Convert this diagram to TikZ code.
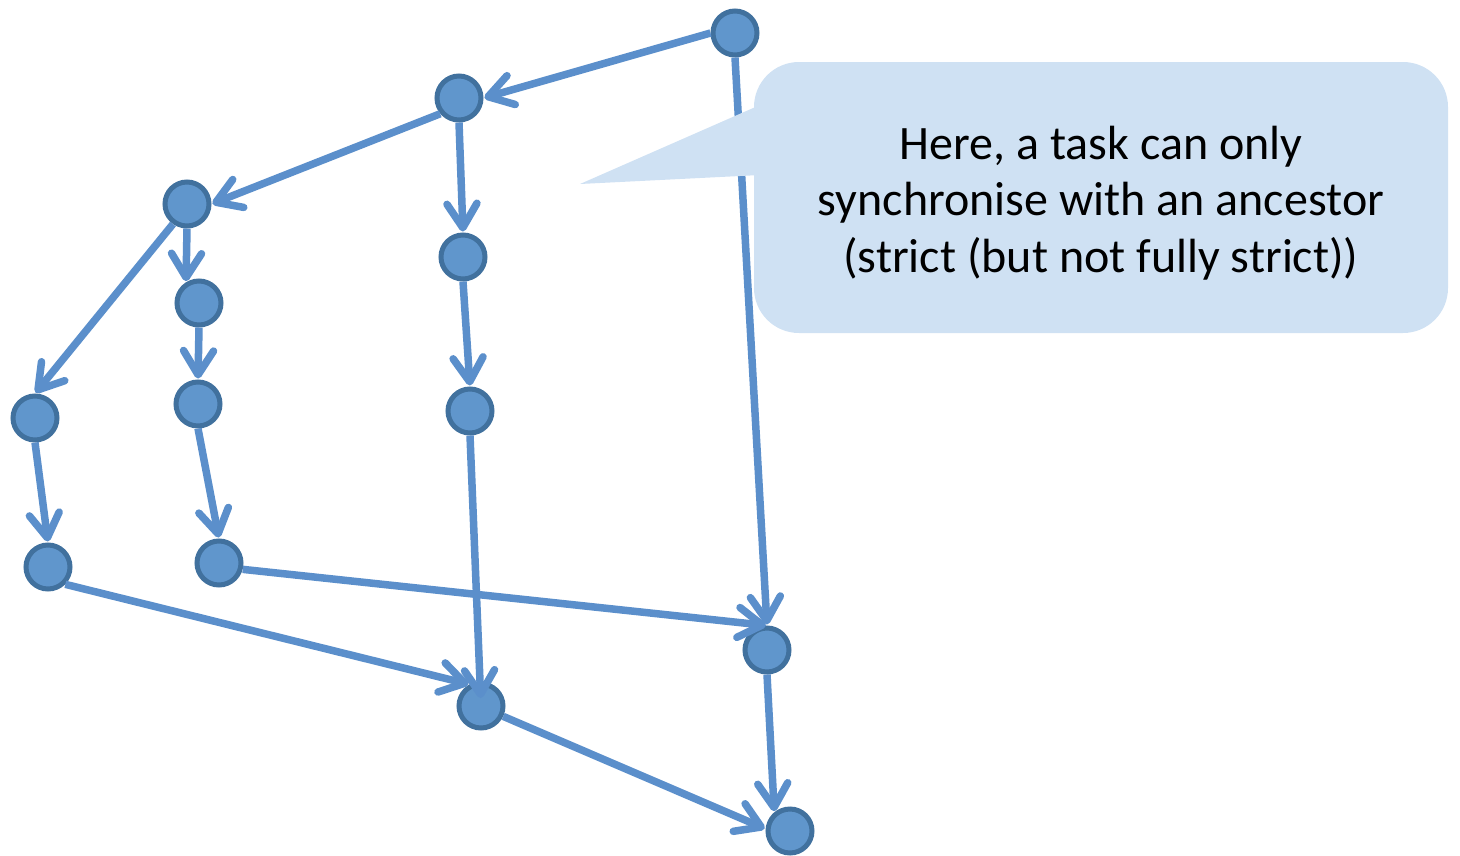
\documentclass[tikz,border=0pt]{standalone}
\usepackage{fontspec}
\setmainfont{Carlito}
\usetikzlibrary{arrows.meta}
\definecolor{edgecol}{RGB}{91,143,203}
\definecolor{nodefill}{RGB}{96,150,204}
\definecolor{nodeline}{RGB}{65,113,158}
\definecolor{callfill}{RGB}{207,225,243}
\tikzset{
  task/.style={circle,fill=nodefill,draw=nodeline,line width=5pt,minimum size=44pt,inner sep=0pt},
  edge/.style={draw=edgecol,line width=7.5pt,-{Straight Barb[length=24pt,width=30pt,round]},shorten >=1pt},
}
\begin{document}
\begin{tikzpicture}[x=1pt,y=-1pt]
\useasboundingbox (0,0) rectangle (1460,855);
% nodes
\node[task] (n1) at (735,33) {};
\node[task] (n2) at (459,98) {};
\node[task] (n3) at (187,204) {};
\node[task] (n4) at (463,257) {};
\node[task] (n5) at (199,303) {};
\node[task] (n6) at (198,404) {};
\node[task] (n7) at (35,418) {};
\node[task] (n8) at (470,411) {};
\node[task] (n9) at (48,567) {};
\node[task] (n10) at (219,563) {};
\node[task] (n11) at (767,650) {};
\node[task] (n12) at (481,706) {};
\node[task] (n13) at (790,831) {};
% edges
\draw[edge] (n1.west) -- (n2.east);
\draw[edge] (n1.south) -- (n11.north);
\draw[edge] (n2.220) -- (n3.east);
\draw[edge] (n2.south) -- (n4.north);
\draw[edge] (n3.235) -- (n7.north);
\draw[edge] (n3.south) -- (n5.122);
\draw[edge] (n5.south) -- (n6.north);
\draw[edge] (n6.south) -- (n10.north);
\draw[edge] (n7.south) -- (n9.north);
\draw[edge] (n4.south) -- (n8.north);
\draw[edge] (n9.-45) -- (n12.118);
\draw[edge] (n10.-15) -- (n11.north);
\draw[edge] (n11.south) -- (n13.130);
\draw[edge] (n12.-25) -- (n13.175);
\draw[edge,shorten >=8pt] (n8.south) -- (n12.center);
% callout
\fill[callfill,rounded corners=45pt] (754,62) rectangle (1448,333);
\fill[callfill] (580,184) -- (760,105) -- (760,175) -- cycle;
\node[align=center,font=\fontsize{48}{56.5}\selectfont,text=black] (txt) at (1101,203)
  {Here, a task can only\\synchronise with an ancestor\\(strict (but not fully strict))};
\end{tikzpicture}
\end{document}
